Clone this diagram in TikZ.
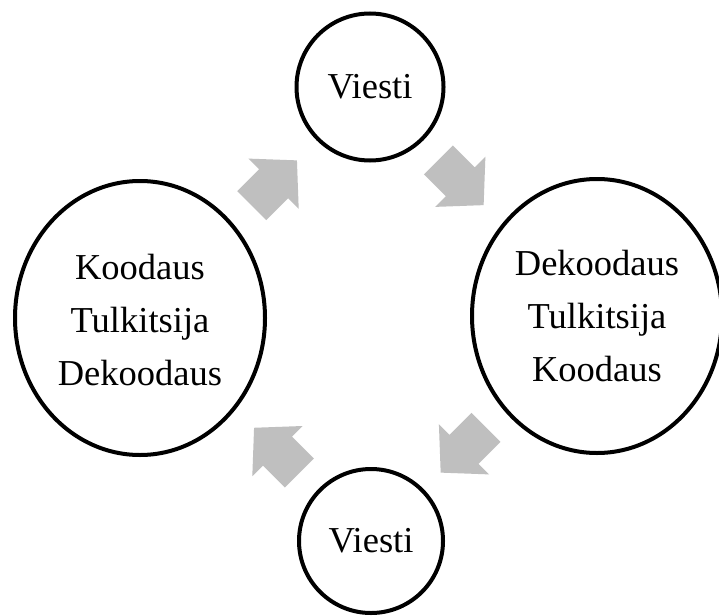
\documentclass[tikz,border=0pt]{standalone}
\usepackage{fontspec}
\setmainfont{Liberation Serif}
\definecolor{arrowgray}{RGB}{191,191,191}
\tikzset{
  ring/.style={draw=black, line width=4pt, fill=white},
  label/.style={font=\fontsize{36.5}{53}\selectfont, align=center, inner sep=0pt},
  blockarrow/.pic={
    \fill[arrowgray] (-32,-20.5) -- (-1,-20.5) -- (-1,-35.5) -- (32,0)
      -- (-1,35.5) -- (-1,20.5) -- (-32,20.5) -- cycle;
  }
}
\begin{document}
\begin{tikzpicture}[x=1pt, y=-1pt]
\clip (0,0) rectangle (719,615);
\fill[white] (0,0) rectangle (719,615);
% circles
\draw[ring] (370,87) circle[radius=73.5];
\draw[ring] (371,541) circle[radius=72];
\draw[ring] (140,318) ellipse[x radius=125, y radius=137];
\draw[ring] (597,316) ellipse[x radius=125, y radius=137];
% labels
\node[label] (top) at (370,87) {Viesti};
\node[label] (bottom) at (371,541) {Viesti};
\node[label] (left) at (140,320) {Koodaus\\Tulkitsija\\Dekoodaus};
\node[label] (right) at (597,316) {Dekoodaus\\Tulkitsija\\Koodaus};
% block arrows
\pic[shift={(274.3,183)}, rotate=45] {blockarrow};
\pic[shift={(461,182.5)}, rotate=-45] {blockarrow};
\pic[shift={(463.3,450)}, rotate=-135] {blockarrow};
\pic[shift={(276.7,450.4)}, rotate=135] {blockarrow};
\end{tikzpicture}
\end{document}
